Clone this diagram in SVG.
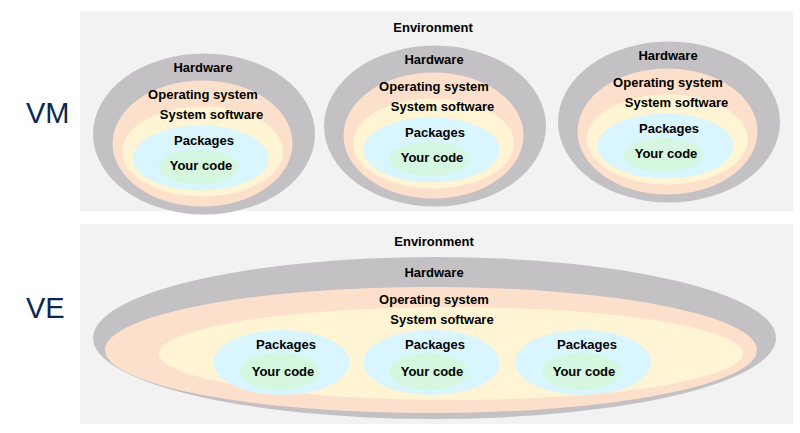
<svg xmlns="http://www.w3.org/2000/svg" width="800" height="433" viewBox="0 0 800 433">
<style>
.panel{fill:#f2f2f2}
.hw{fill:#c3c1c3}
.os{fill:#fde0cb}
.ss{fill:#fff4d3}
.pk{fill:#d9f5fd}
.yc{fill:#d5f7e0}
.t{font-family:"Liberation Sans",Arial,sans-serif;font-weight:bold;font-size:13px;fill:#000;text-anchor:middle}
.big{font-family:"Liberation Sans",Arial,sans-serif;font-size:29px;fill:#0b2752}
</style>
<rect width="800" height="433" fill="#ffffff"/>
<g id="vm-panel">
<rect class="panel" x="80" y="11" width="713" height="200"/>
<text class="t" x="433" y="32">Environment</text>
</g>
<g id="ve-panel">
<rect class="panel" x="80" y="224" width="713" height="200"/>
<text class="t" x="434" y="246">Environment</text>
</g>
<text id="vm-label" class="big" x="26" y="123">VM</text>
<text id="ve-label" class="big" x="26" y="318">VE</text>
<defs>
<g id="vmstack">
<ellipse class="hw" cx="0" cy="0" rx="111" ry="80.5"/>
<ellipse class="os" cx="-1.5" cy="9.5" rx="90" ry="63"/>
<ellipse class="ss" cx="-1.5" cy="17.5" rx="80.5" ry="45"/>
<ellipse class="pk" cx="-3.5" cy="24" rx="68" ry="32.5"/>
<ellipse class="yc" cx="-5.5" cy="33" rx="40" ry="17"/>
<text class="t" x="-1" y="-62">Hardware</text>
<text class="t" x="-1" y="-35">Operating system</text>
<text class="t" x="7.5" y="-15">System software</text>
<text class="t" x="0" y="11">Packages</text>
<text class="t" x="-3" y="36">Your code</text>
</g>
</defs>
<g id="vm1"><use href="#vmstack" transform="translate(204,134)"/></g>
<g id="vm2"><use href="#vmstack" transform="translate(435,126)"/></g>
<g id="vm3"><use href="#vmstack" transform="translate(669,122)"/></g>
<g id="ve">
<ellipse class="hw" cx="434.5" cy="338" rx="341.5" ry="81"/>
<ellipse class="os" cx="431" cy="350" rx="326" ry="63"/>
<ellipse class="ss" cx="451" cy="353.5" rx="292" ry="46.5"/>
<text class="t" x="434" y="277">Hardware</text>
<text class="t" x="434" y="304">Operating system</text>
<text class="t" x="442" y="324">System software</text>
</g>
<g id="ve-pkg1">
<ellipse class="pk" cx="281.5" cy="362.5" rx="68" ry="32.5"/>
<ellipse class="yc" cx="279.5" cy="371.5" rx="39.5" ry="18.5"/>
<text class="t" x="286" y="349">Packages</text>
<text class="t" x="283" y="375.5">Your code</text>
</g>
<g id="ve-pkg2">
<ellipse class="pk" cx="431.5" cy="362.5" rx="68" ry="32.5"/>
<ellipse class="yc" cx="428.5" cy="371.5" rx="39.5" ry="18.5"/>
<text class="t" x="435" y="349">Packages</text>
<text class="t" x="432" y="375.5">Your code</text>
</g>
<g id="ve-pkg3">
<ellipse class="pk" cx="583" cy="362.5" rx="68" ry="32.5"/>
<ellipse class="yc" cx="581.5" cy="371.5" rx="39.5" ry="18.5"/>
<text class="t" x="587" y="349">Packages</text>
<text class="t" x="584" y="375.5">Your code</text>
</g>
<g id="connectors"/>
</svg>
